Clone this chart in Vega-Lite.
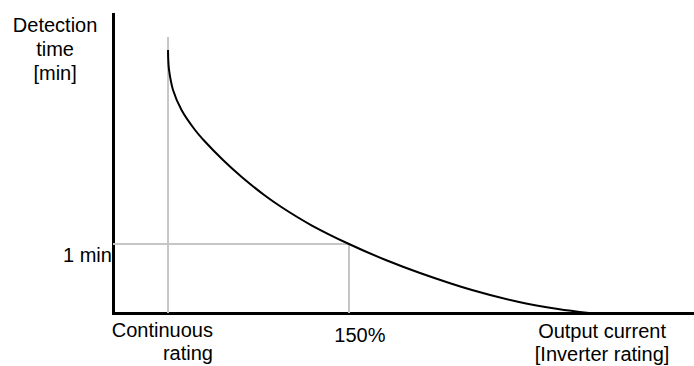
{
  "$schema": "https://vega.github.io/schema/vega-lite/v6.json",
  "width": 581,
  "height": 299,
  "autosize": {"type": "none"},
  "padding": {"left": 113, "top": 14, "right": 0, "bottom": 53},
  "background": "white",
  "config": {
    "view": {"stroke": null},
    "font": "Liberation Sans",
    "axis": {"domainColor": "black", "domainWidth": 3, "domainCap": "square", "ticks": false, "labels": false, "grid": false, "title": null}
  },
  "datasets": {
    "curve": [
      {"current": 100, "time": 3.812},
      {"current": 100.07, "time": 3.667},
      {"current": 100.28, "time": 3.522},
      {"current": 101.38, "time": 3.232},
      {"current": 103.73, "time": 2.942},
      {"current": 107.46, "time": 2.652},
      {"current": 109.81, "time": 2.507},
      {"current": 115.19, "time": 2.217},
      {"current": 120.36, "time": 1.971},
      {"current": 126.57, "time": 1.71},
      {"current": 131.3, "time": 1.536},
      {"current": 139.5, "time": 1.275},
      {"current": 150, "time": 1.0},
      {"current": 160.14, "time": 0.768},
      {"current": 169.61, "time": 0.58},
      {"current": 183.98, "time": 0.333},
      {"current": 196.96, "time": 0.159},
      {"current": 207.73, "time": 0.058},
      {"current": 216.3, "time": 0}
    ],
    "guides": [
      {"x": 100, "y": 0, "x2": 100, "y2": 4.0},
      {"x": 84.8, "y": 1, "x2": 150, "y2": 1},
      {"x": 150, "y": 0, "x2": 150, "y2": 1}
    ],
    "labelsCenter": [
      {"text": "Detection", "x": 68.8, "y": 4.07},
      {"text": "time", "x": 68.8, "y": 3.72},
      {"text": "[min]", "x": 68.8, "y": 3.38},
      {"text": "150%", "x": 153.0, "y": -0.42},
      {"text": "Output current", "x": 219.9, "y": -0.36},
      {"text": "[Inverter rating]", "x": 219.9, "y": -0.70}
    ],
    "labelsRight": [
      {"text": "Continuous", "x": 112.4, "y": -0.35},
      {"text": "rating", "x": 112.4, "y": -0.68},
      {"text": "1 min", "x": 84.5, "y": 0.74}
    ]
  },
  "layer": [
    {
      "data": {"name": "guides"},
      "mark": {"type": "rule", "color": "#c6c6c6", "strokeWidth": 2},
      "encoding": {
        "x": {"field": "x", "type": "quantitative", "scale": {"domain": [84.8, 245.3], "nice": false, "zero": false}, "axis": {"orient": "bottom"}},
        "y": {"field": "y", "type": "quantitative", "scale": {"domain": [0, 4.333], "nice": false, "zero": false}, "axis": {"orient": "left"}},
        "x2": {"field": "x2"},
        "y2": {"field": "y2"}
      }
    },
    {
      "data": {"name": "curve"},
      "mark": {"type": "line", "color": "black", "strokeWidth": 2, "interpolate": "catmull-rom"},
      "encoding": {
        "x": {"field": "current", "type": "quantitative"},
        "y": {"field": "time", "type": "quantitative"}
      }
    },
    {
      "data": {"name": "labelsCenter"},
      "mark": {"type": "text", "align": "center", "baseline": "alphabetic", "fontSize": 20, "color": "black"},
      "encoding": {
        "x": {"field": "x", "type": "quantitative"},
        "y": {"field": "y", "type": "quantitative"},
        "text": {"field": "text"}
      }
    },
    {
      "data": {"name": "labelsRight"},
      "mark": {"type": "text", "align": "right", "baseline": "alphabetic", "fontSize": 20, "color": "black"},
      "encoding": {
        "x": {"field": "x", "type": "quantitative"},
        "y": {"field": "y", "type": "quantitative"},
        "text": {"field": "text"}
      }
    }
  ]
}
